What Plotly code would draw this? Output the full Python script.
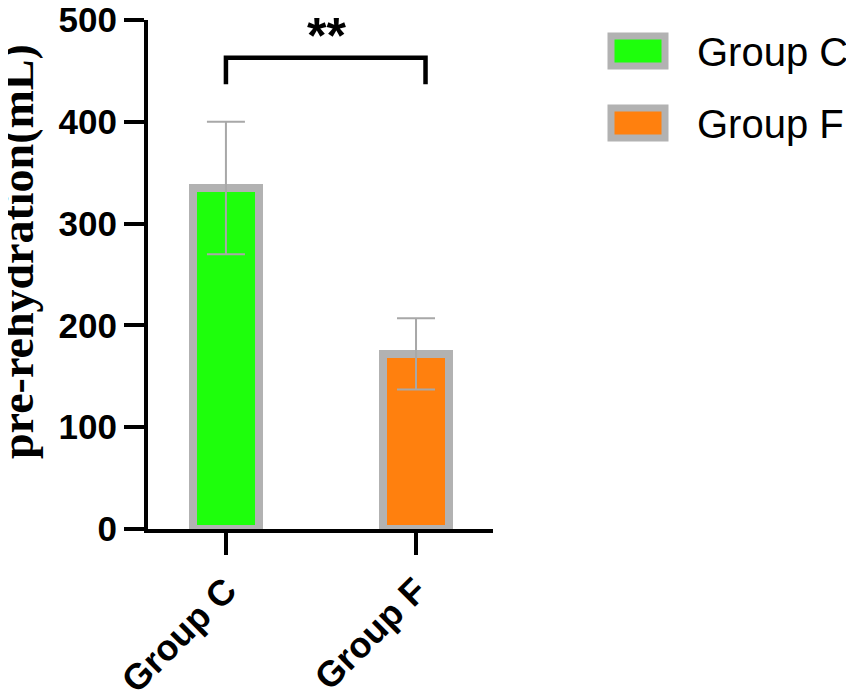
import plotly.graph_objects as go

groups = ['Group C', 'Group F']
means = [335, 172]
sds = [65, 35]
colors = ['#1EFF0C', '#FF800E']
border = '#B2B2B2'
sig_label = '**'
y_ticks = [0, 100, 200, 300, 400, 500]

# the page body has an 8px margin, so the figure is made 8px smaller
OFF = 8
W, H = 854 - OFF, 692 - OFF
# plot area in page pixels: x 148..493, y 20..529
L, R, T, B = 148 - OFF, 854 - 493, 20 - OFF, 692 - 529
pw, ph = W - L - R, H - T - B


def px(x):
    return (x - OFF - L) / pw


def py(y):
    return (H + OFF - B - y) / ph


fig = go.Figure()
fig.add_trace(go.Bar(
    x=[0, 1], y=means,
    width=0.35,
    marker=dict(color=colors, line=dict(color=border, width=8)),
    error_y=dict(type='data', array=sds, visible=True, color='#A8A8A8',
                 thickness=2, width=19),
    showlegend=False,
))

shapes = []
# significance bracket
shapes.append(dict(type='path', xref='x', yref='y',
                   path='M 0,437 L 0,463 L 1.05,463 L 1.05,437',
                   line=dict(color='black', width=4.5)))

annotations = [
    dict(x=0.53, y=484, xref='x', yref='y', text='<b>%s</b>' % sig_label,
         showarrow=False, font=dict(family='Liberation Sans', size=50, color='black')),
    dict(x=px(17), y=py(252), xref='paper', yref='paper', text='<b>pre-rehydration(mL)</b>',
         textangle=-90, showarrow=False, xanchor='center', yanchor='middle',
         font=dict(family='Liberation Serif', size=46, color='black')),
]

# legend drawn by hand so the swatches can be as big as the original
for i, (g, c) in enumerate(zip(groups, colors)):
    top = 36 + i * 72
    shapes.append(dict(type='rect', xref='paper', yref='paper',
                       x0=px(611), x1=px(665), y0=py(top), y1=py(top + 30),
                       fillcolor=c, line=dict(color=border, width=7)))
    annotations.append(dict(x=px(695), y=py(top + 16), xref='paper', yref='paper',
                            text=g, showarrow=False, xanchor='left', yanchor='middle',
                            font=dict(family='Liberation Sans', size=40, color='black')))

fig.update_layout(
    width=W, height=H,
    margin=dict(l=L, r=R, t=T, b=B),
    plot_bgcolor='white', paper_bgcolor='white',
    bargap=0,
    shapes=shapes,
    annotations=annotations,
    xaxis=dict(range=[-0.41, 1.405], tickvals=[0, 1], ticktext=groups,
               tickangle=-45, ticks='outside', ticklen=22, tickwidth=4, tickcolor='black',
               showline=True, linewidth=4, linecolor='black', showgrid=False,
               zeroline=False, automargin=False,
               tickfont=dict(family='Liberation Sans', size=36, color='black', weight='bold')),
    yaxis=dict(range=[0, 500], tickvals=y_ticks, ticks='outside', ticklen=20, tickwidth=4,
               tickcolor='black',
               showline=True, linewidth=4, linecolor='black', showgrid=False,
               zeroline=False, automargin=False, ticklabeloverflow='allow',
               tickfont=dict(family='Liberation Sans', size=35, color='black', weight='bold')),
)

fig.write_html("out.html")
